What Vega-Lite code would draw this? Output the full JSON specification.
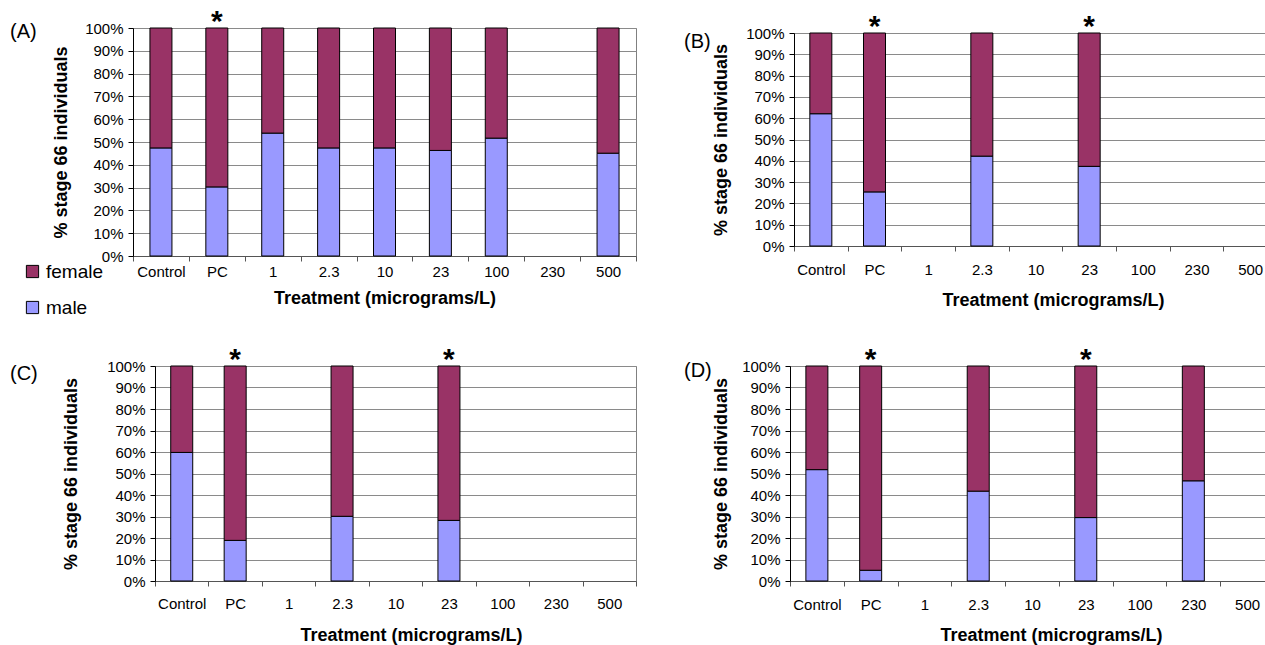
{
  "$schema": "https://vega.github.io/schema/vega-lite/v6.json",
  "padding": {"left": 9, "top": 6, "right": 0, "bottom": 0},
  "background": "white",
  "config": {
    "font": "Liberation Sans",
    "view": {"stroke": null},
    "axis": {"labelFontSize": 15, "labelColor": "#000", "titleFontSize": 18, "titleFontWeight": "bold", "titleColor": "#000", "tickColor": "#000", "domainColor": "#000"},
    "axisX": {"labelAngle": 0, "tickBand": "extent", "grid": false, "tickSize": 5, "domainColor": "#555", "tickColor": "#555"},
    "axisY": {"grid": true, "gridColor": "#8a8a8a", "gridOpacity": 1, "tickSize": 5, "labelPadding": 5, "tickCount": 11, "labelOverlap": false}
  },
  "datasets": {
    "sexes": [
      {"panel": "A", "treatment": "Control", "sex": "male", "pct": 47.4},
      {"panel": "A", "treatment": "Control", "sex": "female", "pct": 52.6},
      {"panel": "A", "treatment": "PC", "sex": "male", "pct": 30.3},
      {"panel": "A", "treatment": "PC", "sex": "female", "pct": 69.7},
      {"panel": "A", "treatment": "1", "sex": "male", "pct": 53.9},
      {"panel": "A", "treatment": "1", "sex": "female", "pct": 46.1},
      {"panel": "A", "treatment": "2.3", "sex": "male", "pct": 47.4},
      {"panel": "A", "treatment": "2.3", "sex": "female", "pct": 52.6},
      {"panel": "A", "treatment": "10", "sex": "male", "pct": 47.4},
      {"panel": "A", "treatment": "10", "sex": "female", "pct": 52.6},
      {"panel": "A", "treatment": "23", "sex": "male", "pct": 46.3},
      {"panel": "A", "treatment": "23", "sex": "female", "pct": 53.7},
      {"panel": "A", "treatment": "100", "sex": "male", "pct": 51.7},
      {"panel": "A", "treatment": "100", "sex": "female", "pct": 48.3},
      {"panel": "A", "treatment": "500", "sex": "male", "pct": 45.1},
      {"panel": "A", "treatment": "500", "sex": "female", "pct": 54.9},
      {"panel": "B", "treatment": "Control", "sex": "male", "pct": 62.1},
      {"panel": "B", "treatment": "Control", "sex": "female", "pct": 37.9},
      {"panel": "B", "treatment": "PC", "sex": "male", "pct": 25.4},
      {"panel": "B", "treatment": "PC", "sex": "female", "pct": 74.6},
      {"panel": "B", "treatment": "2.3", "sex": "male", "pct": 42.2},
      {"panel": "B", "treatment": "2.3", "sex": "female", "pct": 57.8},
      {"panel": "B", "treatment": "23", "sex": "male", "pct": 37.4},
      {"panel": "B", "treatment": "23", "sex": "female", "pct": 62.6},
      {"panel": "C", "treatment": "Control", "sex": "male", "pct": 59.8},
      {"panel": "C", "treatment": "Control", "sex": "female", "pct": 40.2},
      {"panel": "C", "treatment": "PC", "sex": "male", "pct": 18.9},
      {"panel": "C", "treatment": "PC", "sex": "female", "pct": 81.1},
      {"panel": "C", "treatment": "2.3", "sex": "male", "pct": 30.1},
      {"panel": "C", "treatment": "2.3", "sex": "female", "pct": 69.9},
      {"panel": "C", "treatment": "23", "sex": "male", "pct": 28.2},
      {"panel": "C", "treatment": "23", "sex": "female", "pct": 71.8},
      {"panel": "D", "treatment": "Control", "sex": "male", "pct": 51.8},
      {"panel": "D", "treatment": "Control", "sex": "female", "pct": 48.2},
      {"panel": "D", "treatment": "PC", "sex": "male", "pct": 5.0},
      {"panel": "D", "treatment": "PC", "sex": "female", "pct": 95.0},
      {"panel": "D", "treatment": "2.3", "sex": "male", "pct": 41.8},
      {"panel": "D", "treatment": "2.3", "sex": "female", "pct": 58.2},
      {"panel": "D", "treatment": "23", "sex": "male", "pct": 29.5},
      {"panel": "D", "treatment": "23", "sex": "female", "pct": 70.5},
      {"panel": "D", "treatment": "230", "sex": "male", "pct": 46.6},
      {"panel": "D", "treatment": "230", "sex": "female", "pct": 53.4}
    ],
    "stars": [
      {"panel": "A", "treatment": "PC"},
      {"panel": "B", "treatment": "PC"},
      {"panel": "B", "treatment": "23"},
      {"panel": "C", "treatment": "PC"},
      {"panel": "C", "treatment": "23"},
      {"panel": "D", "treatment": "PC"},
      {"panel": "D", "treatment": "23"}
    ]
  },
  "bounds": "flush",
  "spacing": 338,
  "vconcat": [
    {
      "bounds": "flush",
      "spacing": 0,
      "hconcat": [
        {
          "width": 503, "height": 228,
          "view": {"stroke": "#808080"},
          "title": {"text": "(A)", "anchor": "start", "frame": "group", "offset": 0, "baseline": "alphabetic", "dx": -123, "dy": 51, "fontSize": 20, "fontWeight": "normal", "color": "#000"},
          "encoding": {
            "x": {"field": "treatment", "type": "nominal", "scale": {"domain": ["Control", "PC", "1", "2.3", "10", "23", "100", "230", "500"], "paddingInner": 0, "paddingOuter": 0}, "axis": {"title": "Treatment (micrograms/L)", "labelPadding": 3, "titlePadding": 10}}
          },
          "layer": [
            {
              "data": {"name": "sexes"},
              "transform": [{"filter": "datum.panel === 'A'"}],
              "mark": {"type": "bar", "size": 22, "stroke": "#000", "strokeWidth": 1},
              "encoding": {
                "y": {"field": "pct", "type": "quantitative", "stack": "zero", "scale": {"domain": [0, 100]}, "axis": {"title": "% stage 66 individuals", "titlePadding": 14, "tickCount": 11, "values": [0, 10, 20, 30, 40, 50, 60, 70, 80, 90, 100], "labelExpr": "datum.value + '%'"}},
                "color": {"field": "sex", "type": "nominal", "scale": {"domain": ["female", "male"], "range": ["#993366", "#9999FF"]},
                  "legend": {"orient": "none", "legendX": -110, "legendY": 234, "title": null, "symbolType": "square", "symbolSize": 150, "symbolStrokeColor": "#000", "symbolStrokeWidth": 1, "symbolOpacity": 1, "labelFontSize": 19, "labelColor": "#000", "rowPadding": 16, "labelOffset": 4, "padding": 0}},
                "order": {"field": "sex", "sort": "descending"}
              }
            },
            {
              "data": {"name": "stars"},
              "transform": [{"filter": "datum.panel === 'A'"}],
              "mark": {"type": "text", "fontSize": 30, "fontWeight": "bold", "baseline": "alphabetic", "dy": 3, "color": "#000"},
              "encoding": {"y": {"datum": 100, "type": "quantitative", "axis": {"title": "% stage 66 individuals", "titlePadding": 14, "tickCount": 11, "values": [0, 10, 20, 30, 40, 50, 60, 70, 80, 90, 100], "labelExpr": "datum.value + '%'"}}, "text": {"value": "*"}}
            }
          ]
        },
        {"width": 158, "height": 1, "data": {"values": []}, "mark": "point"},
        {
          "bounds": "flush",
          "spacing": 0,
          "vconcat": [
            {"width": 1, "height": 5, "data": {"values": []}, "mark": "point"},
            {
              "width": 483, "height": 213,
              "view": {"stroke": "#808080"},
              "title": {"text": "(B)", "anchor": "start", "frame": "group", "offset": 0, "baseline": "alphabetic", "dx": -110, "dy": 56, "fontSize": 20, "fontWeight": "normal", "color": "#000"},
              "encoding": {
                "x": {"field": "treatment", "type": "nominal", "scale": {"domain": ["Control", "PC", "1", "2.3", "10", "23", "100", "230", "500"], "paddingInner": 0, "paddingOuter": 0}, "axis": {"title": "Treatment (micrograms/L)", "labelPadding": 11, "titlePadding": 14, "titleX": 259}}
              },
              "layer": [
                {
                  "data": {"name": "sexes"},
                  "transform": [{"filter": "datum.panel === 'B'"}],
                  "mark": {"type": "bar", "size": 22, "stroke": "#000", "strokeWidth": 1},
                  "encoding": {
                    "y": {"field": "pct", "type": "quantitative", "stack": "zero", "scale": {"domain": [0, 100]}, "axis": {"title": "% stage 66 individuals", "titlePadding": 15, "tickCount": 11, "values": [0, 10, 20, 30, 40, 50, 60, 70, 80, 90, 100], "labelExpr": "datum.value + '%'"}},
                    "color": {"field": "sex", "type": "nominal", "scale": {"domain": ["female", "male"], "range": ["#993366", "#9999FF"]}, "legend": null},
                    "order": {"field": "sex", "sort": "descending"}
                  }
                },
                {
                  "data": {"name": "stars"},
                  "transform": [{"filter": "datum.panel === 'B'"}],
                  "mark": {"type": "text", "fontSize": 30, "fontWeight": "bold", "baseline": "alphabetic", "dy": 3, "color": "#000"},
                  "encoding": {"y": {"datum": 100, "type": "quantitative", "axis": {"title": "% stage 66 individuals", "titlePadding": 15, "tickCount": 11, "values": [0, 10, 20, 30, 40, 50, 60, 70, 80, 90, 100], "labelExpr": "datum.value + '%'"}}, "text": {"value": "*"}}
                }
              ]
            }
          ]
        }
      ]
    },
    {
      "bounds": "flush",
      "spacing": 0,
      "hconcat": [
        {"width": 22, "height": 1, "data": {"values": []}, "mark": "point"},
        {
          "width": 481, "height": 215,
          "view": {"stroke": "#808080"},
          "title": {"text": "(C)", "anchor": "start", "frame": "group", "offset": 0, "baseline": "alphabetic", "dx": -145, "dy": 55, "fontSize": 20, "fontWeight": "normal", "color": "#000"},
          "encoding": {
            "x": {"field": "treatment", "type": "nominal", "scale": {"domain": ["Control", "PC", "1", "2.3", "10", "23", "100", "230", "500"], "paddingInner": 0, "paddingOuter": 0}, "axis": {"title": "Treatment (micrograms/L)", "labelPadding": 10, "titlePadding": 15, "titleX": 256}}
          },
          "layer": [
            {
              "data": {"name": "sexes"},
              "transform": [{"filter": "datum.panel === 'C'"}],
              "mark": {"type": "bar", "size": 22, "stroke": "#000", "strokeWidth": 1},
              "encoding": {
                "y": {"field": "pct", "type": "quantitative", "stack": "zero", "scale": {"domain": [0, 100]}, "axis": {"title": "% stage 66 individuals", "titlePadding": 26, "tickCount": 11, "values": [0, 10, 20, 30, 40, 50, 60, 70, 80, 90, 100], "labelExpr": "datum.value + '%'"}},
                "color": {"field": "sex", "type": "nominal", "scale": {"domain": ["female", "male"], "range": ["#993366", "#9999FF"]}, "legend": null},
                "order": {"field": "sex", "sort": "descending"}
              }
            },
            {
              "data": {"name": "stars"},
              "transform": [{"filter": "datum.panel === 'C'"}],
              "mark": {"type": "text", "fontSize": 30, "fontWeight": "bold", "baseline": "alphabetic", "dy": 3, "color": "#000"},
              "encoding": {"y": {"datum": 100, "type": "quantitative", "axis": {"title": "% stage 66 individuals", "titlePadding": 26, "tickCount": 11, "values": [0, 10, 20, 30, 40, 50, 60, 70, 80, 90, 100], "labelExpr": "datum.value + '%'"}}, "text": {"value": "*"}}
            }
          ]
        },
        {"width": 154, "height": 1, "data": {"values": []}, "mark": "point"},
        {
          "width": 484, "height": 215,
          "view": {"stroke": "#808080"},
          "title": {"text": "(D)", "anchor": "start", "frame": "group", "offset": 0, "baseline": "alphabetic", "dx": -106, "dy": 52, "fontSize": 20, "fontWeight": "normal", "color": "#000"},
          "encoding": {
            "x": {"field": "treatment", "type": "nominal", "scale": {"domain": ["Control", "PC", "1", "2.3", "10", "23", "100", "230", "500"], "paddingInner": 0, "paddingOuter": 0}, "axis": {"title": "Treatment (micrograms/L)", "labelPadding": 11, "titlePadding": 14, "titleX": 261}}
          },
          "layer": [
            {
              "data": {"name": "sexes"},
              "transform": [{"filter": "datum.panel === 'D'"}],
              "mark": {"type": "bar", "size": 22, "stroke": "#000", "strokeWidth": 1},
              "encoding": {
                "y": {"field": "pct", "type": "quantitative", "stack": "zero", "scale": {"domain": [0, 100]}, "axis": {"title": "% stage 66 individuals", "titlePadding": 11, "tickCount": 11, "values": [0, 10, 20, 30, 40, 50, 60, 70, 80, 90, 100], "labelExpr": "datum.value + '%'"}},
                "color": {"field": "sex", "type": "nominal", "scale": {"domain": ["female", "male"], "range": ["#993366", "#9999FF"]}, "legend": null},
                "order": {"field": "sex", "sort": "descending"}
              }
            },
            {
              "data": {"name": "stars"},
              "transform": [{"filter": "datum.panel === 'D'"}],
              "mark": {"type": "text", "fontSize": 30, "fontWeight": "bold", "baseline": "alphabetic", "dy": 3, "color": "#000"},
              "encoding": {"y": {"datum": 100, "type": "quantitative", "axis": {"title": "% stage 66 individuals", "titlePadding": 11, "tickCount": 11, "values": [0, 10, 20, 30, 40, 50, 60, 70, 80, 90, 100], "labelExpr": "datum.value + '%'"}}, "text": {"value": "*"}}
            }
          ]
        }
      ]
    }
  ]
}
